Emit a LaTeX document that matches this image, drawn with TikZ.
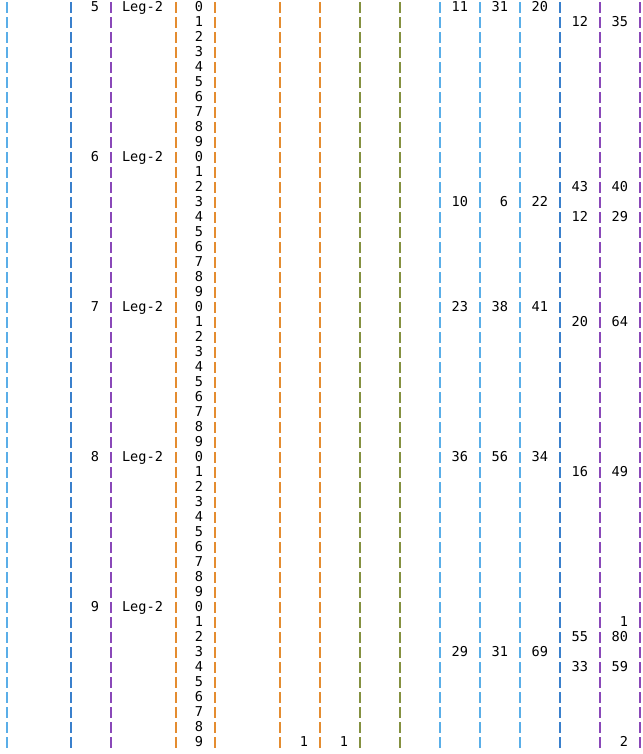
\documentclass[tikz,border=0pt]{standalone}
\usepackage{fontspec}
\setmonofont{DejaVu Sans Mono}
\definecolor{lb}{HTML}{5AAEE8}
\definecolor{bl}{HTML}{3A80CC}
\definecolor{pu}{HTML}{8A48B8}
\definecolor{orx}{HTML}{E48C30}
\definecolor{ol}{HTML}{849040}
\begin{document}
\begin{tikzpicture}[x=0.75pt,y=-0.75pt,
  cell/.style={anchor=base east, inner sep=0pt, outer sep=0pt, font=\ttfamily\fontsize{10.2pt}{12pt}\selectfont, text=black},
  sep/.style={line width=1.5pt, dash pattern=on 8.25pt off 3pt, dash phase=0pt}]
\useasboundingbox (0,0) rectangle (643,754);
\fill[white] (0,0) rectangle (643,754);
% dashed column separators
\draw[sep,lb]  (6.5,2)   -- (6.5,750);
\draw[sep,bl]  (70.5,2)  -- (70.5,750);
\draw[sep,pu]  (110.5,2) -- (110.5,750);
\draw[sep,orx] (175.5,2) -- (175.5,750);
\draw[sep,orx] (214.5,2) -- (214.5,750);
\draw[sep,orx] (279.5,2) -- (279.5,750);
\draw[sep,orx] (319.5,2) -- (319.5,750);
\draw[sep,ol]  (359.5,2) -- (359.5,750);
\draw[sep,ol]  (399.5,2) -- (399.5,750);
\draw[sep,lb]  (439.5,2) -- (439.5,750);
\draw[sep,lb]  (479.5,2) -- (479.5,750);
\draw[sep,lb]  (519.5,2) -- (519.5,750);
\draw[sep,bl]  (559.5,2) -- (559.5,750);
\draw[sep,pu]  (599.5,2) -- (599.5,750);
\draw[sep,pu]  (639.5,2) -- (639.5,750);
% group labels and leg names
\foreach \g/\lab in {0/5,1/6,2/7,3/8,4/9}{
  \node[cell] (grp\lab) at (99,150*\g+11.7) {\lab};
  \node[cell] (leg\lab) at (163,150*\g+11.7) {Leg-2};
}
% sub-row digits
\foreach \i in {0,...,49}{
  \pgfmathtruncatemacro{\d}{mod(\i,10)}
  \node[cell] (dig\i) at (203,15*\i+11.7) {\d};
}
% values: row / right edge / text
\foreach \r/\x/\t [count=\k] in {
  0/468/11, 0/508/31, 0/548/20, 1/588/12, 1/628/35,
  12/588/43, 12/628/40, 13/468/10, 13/508/6, 13/548/22, 14/588/12, 14/628/29,
  20/468/23, 20/508/38, 20/548/41, 21/588/20, 21/628/64,
  30/468/36, 30/508/56, 30/548/34, 31/588/16, 31/628/49,
  41/628/1, 42/588/55, 42/628/80, 43/468/29, 43/508/31, 43/548/69, 44/588/33, 44/628/59,
  49/308/1, 49/348/1, 49/628/2}{
  \node[cell] (val\k) at (\x,15*\r+11.7) {\t};
}
\end{tikzpicture}
\end{document}
